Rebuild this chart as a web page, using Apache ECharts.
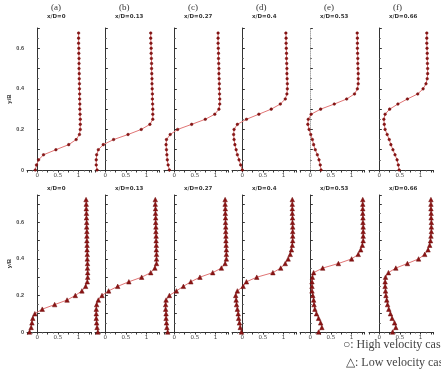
<!DOCTYPE html>
<html><head><meta charset="utf-8">
<script src="https://cdn.jsdelivr.net/npm/echarts@6/dist/echarts.min.js"></script>
<style>html,body{margin:0;padding:0;background:#fff}#c{width:441px;height:376px}</style>
</head><body><div id="c"></div>
<script>
const panelLetters = ['(a)','(b)','(c)','(d)','(e)','(f)'];
const stations = ['x/D=0','x/D=0.13','x/D=0.27','x/D=0.4','x/D=0.53','x/D=0.66'];
const xTickLabels = [0, 0.5, 1];
const yTickLabels = [0, 0.2, 0.4, 0.6];
const legendTexts = ['\u25CB: High velocity case', '\u25B3: Low velocity case'];

// y/B sampling heights
const hiY = [0,0.025,0.05,0.075,0.1,0.125,0.15,0.175,0.2,0.225,0.25,0.275,0.3,0.325,0.35,0.375,0.4,0.425,0.45,0.475,0.5,0.525,0.55,0.575,0.6,0.625,0.65,0.675];
const loY = [0,0.025,0.05,0.075,0.1,0.125,0.15,0.175,0.2,0.225,0.25,0.275,0.3,0.325,0.35,0.375,0.4,0.425,0.45,0.475,0.5,0.525,0.55,0.575,0.6,0.625,0.65,0.675,0.7,0.725];

// High velocity case (top row), u/U
const hiA = [-0.05,-0.02,0.03,0.15,0.45,0.76,0.94,1.02,1.04,1.04,1.04,1.035,1.03,1.03,1.025,1.025,1.02,1.02,1.015,1.015,1.01,1.01,1.01,1.005,1.005,1.0,1.0,1.0];
const hiB = [-0.2,-0.22,-0.22,-0.21,-0.17,-0.05,0.2,0.55,0.87,1.08,1.15,1.15,1.15,1.145,1.14,1.14,1.135,1.13,1.13,1.125,1.12,1.12,1.115,1.11,1.11,1.105,1.1,1.1];
const hiC = [-0.12,-0.15,-0.17,-0.18,-0.19,-0.2,-0.19,-0.1,0.08,0.42,0.75,0.98,1.08,1.1,1.1,1.095,1.09,1.09,1.085,1.08,1.08,1.075,1.07,1.07,1.065,1.06,1.06,1.06];
const hiD = [0.0,-0.04,-0.08,-0.12,-0.15,-0.18,-0.2,-0.21,-0.2,-0.12,0.1,0.4,0.7,0.92,1.04,1.08,1.09,1.09,1.085,1.08,1.08,1.075,1.07,1.07,1.065,1.06,1.06,1.055];
const hiE = [0.26,0.24,0.21,0.17,0.12,0.08,0.05,0.01,-0.03,-0.06,-0.05,0.02,0.25,0.58,0.88,1.07,1.14,1.16,1.16,1.16,1.155,1.15,1.15,1.145,1.14,1.14,1.14,1.135];
const hiF = [0.48,0.46,0.43,0.38,0.33,0.28,0.24,0.19,0.14,0.12,0.11,0.14,0.25,0.45,0.68,0.93,1.06,1.13,1.16,1.17,1.17,1.165,1.16,1.16,1.155,1.15,1.15,1.15];

// Low velocity case (bottom row), u/U
const loA = [-0.19,-0.15,-0.13,-0.11,-0.06,0.12,0.42,0.72,0.92,1.08,1.17,1.21,1.22,1.22,1.215,1.215,1.21,1.21,1.205,1.205,1.2,1.2,1.2,1.195,1.195,1.19,1.19,1.185,1.185,1.18];
const loB = [-0.18,-0.2,-0.21,-0.22,-0.22,-0.22,-0.21,-0.17,-0.08,0.08,0.3,0.57,0.88,1.1,1.2,1.24,1.24,1.24,1.235,1.235,1.23,1.23,1.225,1.225,1.22,1.22,1.215,1.215,1.21,1.21];
const loC = [-0.16,-0.18,-0.19,-0.2,-0.2,-0.21,-0.21,-0.2,-0.12,0.05,0.22,0.4,0.62,0.93,1.14,1.23,1.26,1.26,1.26,1.255,1.25,1.25,1.245,1.245,1.24,1.24,1.235,1.235,1.23,1.23];
const loD = [-0.02,-0.05,-0.07,-0.09,-0.1,-0.12,-0.14,-0.15,-0.16,-0.12,0.02,0.1,0.35,0.74,0.93,1.04,1.11,1.16,1.19,1.21,1.22,1.22,1.22,1.22,1.215,1.215,1.21,1.21,1.21,1.21];
const loE = [0.2,0.28,0.25,0.2,0.15,0.11,0.09,0.08,0.06,0.04,0.04,0.04,0.05,0.08,0.3,0.68,1.0,1.16,1.22,1.26,1.28,1.28,1.28,1.28,1.275,1.275,1.27,1.27,1.27,1.27];
const loF = [0.32,0.4,0.37,0.31,0.27,0.23,0.2,0.18,0.16,0.15,0.14,0.14,0.15,0.22,0.4,0.68,0.95,1.1,1.18,1.22,1.24,1.25,1.26,1.26,1.26,1.255,1.255,1.25,1.25,1.25];

const hiU = [hiA, hiB, hiC, hiD, hiE, hiF];
const loU = [loA, loB, loC, loD, loE, loF];

const lefts = [27, 95, 164, 232, 300, 369];
const W = 64;
const rows = [
  {top: 28, height: 142, ymax: 0.7, y: hiY, u: hiU, symbol: 'circle', size: 2.6},
  {top: 195, height: 137, ymax: 0.75, y: loY, u: loU, symbol: 'triangle', size: 4.5}
];

const near = (v, arr) => arr.some(t => Math.abs(t - v) < 1e-6);
const grid = [], xAxis = [], yAxis = [], series = [], graphic = [];
const axisColor = '#333';
let idx = 0;
rows.forEach((r, ri) => {
  for (let c = 0; c < 6; c++) {
    grid.push({left: lefts[c], top: r.top, width: W, height: r.height});
    xAxis.push({
      type: 'value', gridIndex: idx, min: -0.25, max: 1.3, interval: 0.25,
      axisLine: {show: true, onZero: false, lineStyle: {color: axisColor, width: 1}},
      axisTick: {show: true, length: 2.5, lineStyle: {color: axisColor}},
      minorTick: {show: true, splitNumber: 2, length: 1.5, lineStyle: {color: '#555'}},
      splitLine: {show: false},
      axisLabel: {fontSize: 5.5, color: '#444', margin: 3, fontFamily: 'DejaVu Sans',
        formatter: v => near(v, xTickLabels) ? String(+v.toFixed(2)) : ''}
    });
    const dotted = (ri === 0 && c === 4);
    yAxis.push({
      type: 'value', gridIndex: idx, min: 0, max: r.ymax, interval: 0.1,
      name: c === 0 ? 'y/B' : '', nameLocation: 'middle', nameGap: 13, nameRotate: 90,
      nameTextStyle: {fontSize: 6, fontWeight: 'bold', color: '#333'},
      axisLine: {show: true, lineStyle: {color: dotted ? '#aaa' : axisColor, width: 1, type: dotted ? 'dotted' : 'solid'}},
      axisTick: {show: true, inside: true, length: 2.5, lineStyle: {color: axisColor}},
      minorTick: {show: true, splitNumber: 2, length: 1.5, lineStyle: {color: '#666'}},
      splitLine: {show: false},
      axisLabel: {show: c === 0, fontSize: 5.5, color: '#444', margin: 3, fontWeight: 'bold',
        formatter: v => near(v, yTickLabels) ? String(+v.toFixed(2)) : ''}
    });
    series.push({
      type: 'line', xAxisIndex: idx, yAxisIndex: idx,
      data: r.u[c].map((u, k) => [u, r.y[k]]),
      symbol: r.symbol, symbolSize: r.size, showSymbol: true,
      lineStyle: {color: '#e07575', width: 1},
      itemStyle: {color: '#8b1414', borderColor: '#6e0c0c', borderWidth: 0.5},
      animation: false, silent: true
    });
    idx++;
  }
});

for (let c = 0; c < 6; c++) {
  const cx = lefts[c] + W / 2;
  graphic.push({type: 'text', left: cx - 8, top: 3, style: {text: panelLetters[c], font: '9px "Liberation Serif"', fill: '#333', textAlign: 'center'}});
  graphic.push({type: 'text', left: cx - 12, top: 14, style: {text: stations[c], font: 'bold 5.5px "DejaVu Sans"', fill: '#333'}});
  graphic.push({type: 'text', left: cx - 12, top: 186, style: {text: stations[c], font: 'bold 5.5px "DejaVu Sans"', fill: '#333'}});
}
graphic.push({type: 'text', left: 343, top: 339, style: {text: legendTexts[0], font: '12px "Liberation Serif"', fill: '#444'}});
graphic.push({type: 'text', left: 346, top: 357, style: {text: legendTexts[1], font: '12px "Liberation Serif"', fill: '#444'}});

const chart = echarts.init(document.getElementById('c'), null, {renderer: 'canvas'});
chart.setOption({animation: false, backgroundColor: '#fff', grid, xAxis, yAxis, series, graphic});
</script></body></html>
